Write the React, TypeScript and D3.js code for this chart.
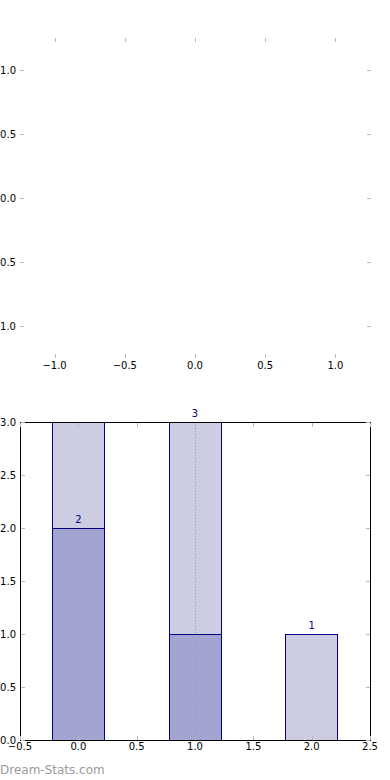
import React, { useEffect, useRef } from 'react';
import * as d3 from 'd3';

// top (empty) panel ticks
const topXTicks = [-1.0, -0.5, 0.0, 0.5, 1.0];
const topYTicks = [-1.0, -0.5, 0.0, 0.5, 1.0];

// bottom bar panel
const categories = [0, 1, 2];
const totalValues = [3, 3, 1];
const partValues = [2, 1, 0];
const barLabels = [2, 3, 1];
const barWidth = 0.445;
const markerX = 1.0;
const bottomXTicks = [-0.5, 0.0, 0.5, 1.0, 1.5, 2.0, 2.5];
const bottomYTicks = [0.0, 0.5, 1.0, 1.5, 2.0, 2.5, 3.0];

const W = 390;
const H = 780;
const FONT = 'DejaVu Sans, sans-serif';
const TICK = '#b8b8b8';
const fmt = (v: number) => d3.format('.1f')(v).replace('-', '\u2212');
const px = (v: number) => Math.round(v) + 0.5;

const App: React.FC = () => {
  const svgRef = useRef<SVGSVGElement>(null);

  useEffect(() => {
    if (!svgRef.current) return;
    const svg = d3.select(svgRef.current);
    svg.selectAll('*').remove();

    // --- top panel: frame hidden, ticks only ---
    const tx = d3.scaleLinear().domain([-1.25, 1.25]).range([19.5, 370.5]);
    const ty = d3.scaleLinear().domain([-1.25, 1.25]).range([358, 38]);
    const top = svg.append('g');

    topXTicks.forEach(v => {
      const x = px(tx(v));
      top.append('line').attr('x1', x).attr('x2', x).attr('y1', 38).attr('y2', 42).attr('stroke', TICK);
      top.append('line').attr('x1', x).attr('x2', x).attr('y1', 354).attr('y2', 358).attr('stroke', TICK);
      top.append('text').attr('x', tx(v)).attr('y', 369).attr('text-anchor', 'middle')
        .attr('font-family', FONT).attr('font-size', 10).text(fmt(v));
    });
    topYTicks.forEach(v => {
      const y = px(ty(v));
      top.append('line').attr('x1', 20).attr('x2', 24).attr('y1', y).attr('y2', y).attr('stroke', TICK);
      top.append('line').attr('x1', 367).attr('x2', 371).attr('y1', y).attr('y2', y).attr('stroke', TICK);
      top.append('text').attr('x', 16).attr('y', ty(v)).attr('dy', '0.36em').attr('text-anchor', 'end')
        .attr('font-family', FONT).attr('font-size', 10).text(fmt(v));
    });

    // --- bottom panel: bar chart ---
    const bx = d3.scaleLinear().domain([-0.5, 2.5]).range([20, 370]);
    const by = d3.scaleLinear().domain([0, 3]).range([740, 422]);
    const bw = Math.round(bx(barWidth) - bx(0));
    const left = (d: number) => Math.floor(bx(d) - bw / 2) + 0.5;
    const bot = svg.append('g');

    bot.selectAll('rect.total').data(categories).join('rect')
      .attr('class', 'total')
      .attr('x', d => left(d)).attr('width', bw)
      .attr('y', (d, i) => px(by(totalValues[i]))).attr('height', (d, i) => Math.round(by(0) - by(totalValues[i])))
      .attr('fill', '#cccce3').attr('stroke', '#000080').attr('stroke-width', 1);

    bot.selectAll('rect.part').data(categories.filter((d, i) => partValues[i] > 0)).join('rect')
      .attr('class', 'part')
      .attr('x', d => left(d)).attr('width', bw)
      .attr('y', d => px(by(partValues[d]))).attr('height', d => Math.round(by(0) - by(partValues[d])))
      .attr('fill', '#a4a4d0').attr('stroke', '#000080').attr('stroke-width', 1);

    bot.append('line')
      .attr('x1', px(bx(markerX))).attr('x2', px(bx(markerX)))
      .attr('y1', by(3)).attr('y2', by(0))
      .attr('stroke', '#9a9aaa').attr('stroke-dasharray', '1,2');

    bot.selectAll('text.lbl').data(categories).join('text')
      .attr('class', 'lbl')
      .attr('x', d => bx(d)).attr('y', (d, i) => by(barLabels[i]) - 5)
      .attr('text-anchor', 'middle').attr('font-family', FONT).attr('font-size', 10)
      .attr('fill', '#000080').text((d, i) => barLabels[i]);

    // frame
    bot.append('rect').attr('x', 20.5).attr('y', 422.5).attr('width', 350).attr('height', 318)
      .attr('fill', 'none').attr('stroke', '#000').attr('stroke-width', 1);

    bottomXTicks.forEach(v => {
      const x = px(bx(v));
      bot.append('line').attr('x1', x).attr('x2', x).attr('y1', 423).attr('y2', 427).attr('stroke', TICK);
      bot.append('line').attr('x1', x).attr('x2', x).attr('y1', 736).attr('y2', 740).attr('stroke', TICK);
      bot.append('text').attr('x', bx(v)).attr('y', 750).attr('text-anchor', 'middle')
        .attr('font-family', FONT).attr('font-size', 10).text(fmt(v));
    });
    bottomYTicks.forEach(v => {
      const y = px(by(v));
      bot.append('line').attr('x1', 21).attr('x2', 25).attr('y1', y).attr('y2', y).attr('stroke', TICK);
      bot.append('line').attr('x1', 366).attr('x2', 370).attr('y1', y).attr('y2', y).attr('stroke', TICK);
      bot.append('text').attr('x', 16).attr('y', by(v)).attr('dy', '0.36em').attr('text-anchor', 'end')
        .attr('font-family', FONT).attr('font-size', 10).text(fmt(v));
    });

    // watermark
    svg.append('text').attr('x', 0).attr('y', 774)
      .attr('font-family', FONT).attr('font-size', 12)
      .attr('fill', '#9a9a9a').text('Dream-Stats.com');
  }, []);

  return (
    <svg ref={svgRef} width={W} height={H}
      style={{ position: 'absolute', left: 0, top: 0, background: '#fff' }} />
  );
};

export default App;
